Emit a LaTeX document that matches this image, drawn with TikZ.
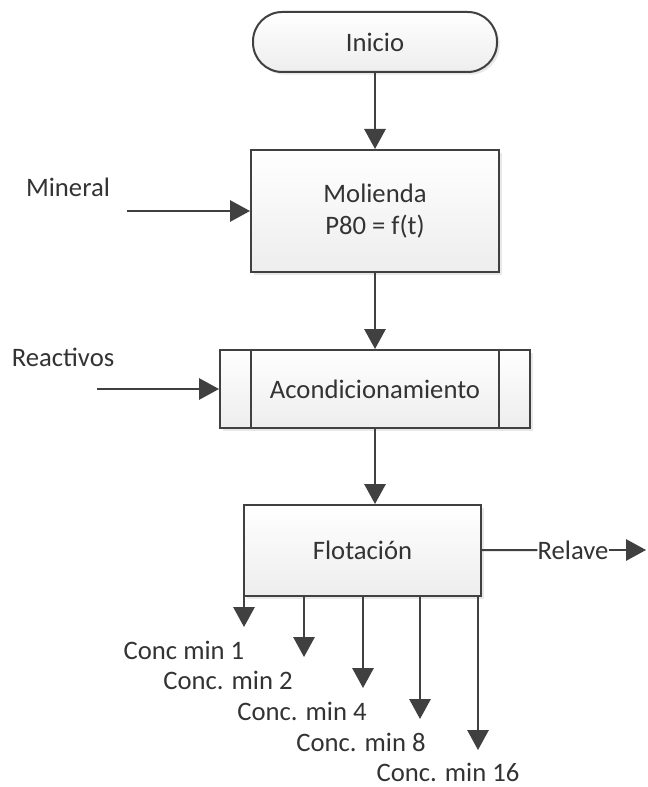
\documentclass[tikz,border=0pt]{standalone}
\usepackage{fontspec}
\setmainfont{Carlito}
\usepackage{tikz}
\usetikzlibrary{positioning,arrows.meta,shadows}

\definecolor{linegray}{HTML}{404040}
\definecolor{textgray}{HTML}{333333}

\begin{document}
\begin{tikzpicture}[x=0.75pt,y=-0.75pt,
                font=\fontsize{20}{24}\selectfont,text=textgray,
                box/.style={rectangle,draw=linegray,line width=1.5pt,top color=white,bottom color=gray!14,
                    drop shadow={opacity=0.18,shadow xshift=2pt,shadow yshift=-2pt},align=center},
                term/.style={box,rounded corners=22pt,minimum width=183pt,minimum height=45pt},
                arr/.style={draw=linegray,line width=1.5pt,-{Triangle[length=15pt,width=16pt]}},
                lbl/.style={inner sep=0pt},
            ]
                \useasboundingbox (0,0) rectangle (648,787);

                \node[term] (inicio) at (375,42) {Inicio};
                \node[box,minimum width=186pt,minimum height=91.5pt] (molienda) at (375,211) {Molienda\\P80 = f(t)};
                \node[box,minimum width=232.5pt,minimum height=58.5pt] (acond) at (375,389) {Acondicionamiento};
                \node[box,minimum width=177.75pt,minimum height=68.25pt] (flot) at (362.5,550.5) {Flotación};

                % bars of the predefined process
                \draw[linegray,line width=1.5pt] (251,350) -- (251,428);
                \draw[linegray,line width=1.5pt] (499,350) -- (499,428);

                \node[lbl] (mineral) at (68,187) {Mineral};
                \node[lbl] (reactivos) at (63,357) {Reactivos};
                \node[lbl] (relave) at (573,550) {Relave};

                \coordinate (mineralin) at (127,211);
                \coordinate (reactin) at (97,389);
                \coordinate (relaveout) at (646,550);

                \draw[arr] (inicio) -- (molienda);
                \draw[arr] (molienda) -- (acond);
                \draw[arr] (acond) -- (flot.north -| acond.south);
                \draw[arr] (mineralin) -- (molienda);
                \draw[arr] (reactin) -- (acond);
                \draw[draw=linegray,line width=1.5pt] (flot) -- (relave.west);
                \draw[arr] (relave.east) -- (relaveout);

                \coordinate (c1) at (244,627);
                \coordinate (c2) at (304,657);
                \coordinate (c3) at (363,688);
                \coordinate (c4) at (420,719);
                \coordinate (c5) at (478,750);
                \draw[arr] (flot.south -| c1) -- (c1);
                \draw[arr] (flot.south -| c2) -- (c2);
                \draw[arr] (flot.south -| c3) -- (c3);
                \draw[arr] (flot.south -| c4) -- (c4);
                \draw[arr] (flot.south -| c5) -- (c5);

                \node[lbl] (conc1) at (184,650) {Conc min 1};
                \node[lbl] (conc2) at (228,680) {Conc. min 2};
                \node[lbl] (conc4) at (302,711) {Conc. min 4};
                \node[lbl] (conc8) at (361,742) {Conc. min 8};
                \node[lbl] (conc16) at (448,772) {Conc. min 16};
            \end{tikzpicture}
\end{document}
